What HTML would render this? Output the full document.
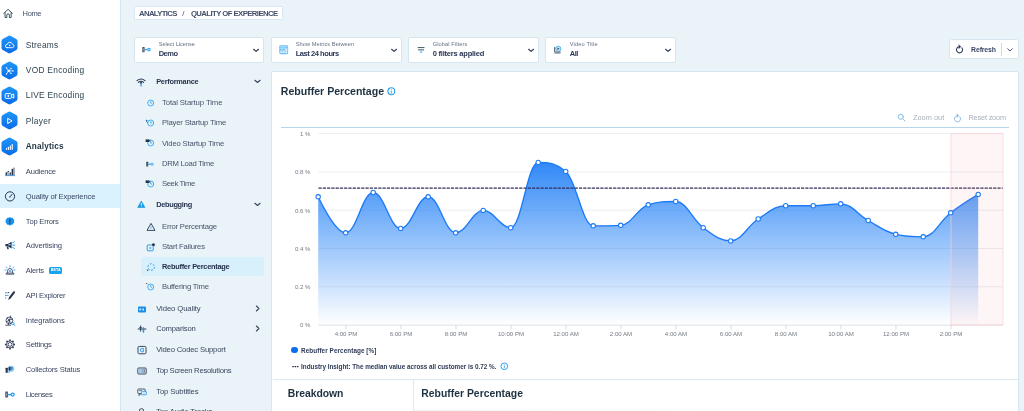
<!DOCTYPE html>
<html lang="en">
<head>
<meta charset="utf-8">
<title>Analytics - Quality of Experience</title>
<style>
*{box-sizing:border-box;margin:0;padding:0}
html,body{width:1024px;height:411px;overflow:hidden}
body{background:#eaf3f7;font-family:"Liberation Sans",sans-serif;color:#2f3d5c;position:relative}
.abs{position:absolute}
#app{position:absolute;left:0;top:0;width:1024px;height:411px;overflow:hidden;will-change:transform;background:#eaf3f7}
/* ---------- left sidebar ---------- */
#side{position:absolute;left:0;top:0;width:121px;height:411px;background:#fff;border-right:1px solid #d3e5f0}
#side .it{position:absolute;left:0;width:120.2px;height:24px;line-height:25.2px;font-size:7.6px;color:#3a4763;padding-left:25.8px;white-space:nowrap}
#side .it.main{line-height:24.6px;font-size:8.35px;letter-spacing:.3px;color:#2f4350;padding-left:25.8px}
#side .it.main.b{font-weight:bold;color:#1d3140;font-size:8.2px;line-height:26px}
#side .it.cur{background:#daf2fd}
#side .ic{position:absolute;left:2px;top:50%;width:16px;height:16px;margin-top:-8px;transform:translateY(.4px)}
#side .hex{position:absolute;left:.9px;top:50%;width:17px;height:19px;margin-top:-9.5px}
.beta{display:inline-block;vertical-align:middle;background:#1aa3ea;color:#fff;font-size:3.7px;font-weight:bold;line-height:6.8px;height:6.6px;width:12.6px;text-align:center;border-radius:1.6px;margin-left:5.6px;position:relative;top:-.7px;letter-spacing:.1px}
/* ---------- header ---------- */
#crumb{position:absolute;left:134px;top:6px;width:149px;height:14px;background:#fff;border:1px solid #d8e8f2;border-radius:1px;font-size:7.75px;font-weight:bold;color:#44506b;line-height:13.4px;padding-left:4px;white-space:nowrap;letter-spacing:.05px}
.sel{position:absolute;top:37px;height:26px;background:#fff;border:1px solid #d5e6f1;border-radius:2px}
.sel .lb{position:absolute;left:23.7px;top:2.6px;font-size:5.7px;color:#667286;white-space:nowrap;line-height:7px}
.sel .vl{position:absolute;left:23.7px;top:11.2px;font-size:7.5px;font-weight:bold;color:#2a3654;white-space:nowrap;line-height:10px}
.sel svg.chev{position:absolute;right:3.5px;top:9.9px;width:6.2px;height:4.4px}
.sel svg.li{position:absolute;left:7px;top:7px;width:11px;height:11px}
#refresh{position:absolute;left:949px;top:39px;width:70px;height:20px;background:#fff;border:1px solid #d5e6f1;border-radius:2.5px}
#refresh>span{position:absolute;left:21.1px;top:1.2px;line-height:18.5px;font-size:6.9px;font-weight:bold;color:#3a4663}
#refresh i{position:absolute;left:51px;top:3.4px;width:1.2px;height:12.2px;background:#c6dbeb}
#crumb b{position:absolute;top:0}#crumb .c1{left:4px}#crumb .c2{left:47.2px;font-weight:normal}#crumb .c3{left:55.9px}
</style>
</head>
<body>
<div id="app">
<div id="side">
<svg width="0" height="0" style="position:absolute"><defs>
<linearGradient id="hg" x1="0" y1="0" x2="0" y2="1"><stop offset="0" stop-color="#2196f8"/><stop offset="1" stop-color="#0a6be6"/></linearGradient>
<symbol id="hex" viewBox="0 0 17 19"><path d="M7.2 .9 Q8.5 .2 9.8 .9 L15.3 4.1 Q16.5 4.8 16.5 6.2 L16.5 12.8 Q16.5 14.2 15.3 14.9 L9.8 18.1 Q8.5 18.8 7.2 18.1 L1.7 14.9 Q.5 14.2 .5 12.8 L.5 6.2 Q.5 4.8 1.7 4.1 Z" fill="url(#hg)"/></symbol>
</defs></svg>

<div class="it" style="top:1.2px;padding-left:22.6px;font-size:7.5px;color:#434f6b">
<svg class="ic" style="left:3.4px;width:10.2px;height:10.2px;margin-top:-5.2px" viewBox="0 0 11 11" fill="none" stroke="#34505c" stroke-width="1.05" stroke-linejoin="round" stroke-linecap="round"><path d="M.8 5.4 L5.5 1 L10.2 5.4"/><path d="M2.2 4.6 V9.9 H4.1 V7.2 Q4.1 5.9 5.5 5.9 Q6.9 5.9 6.9 7.2 V9.9 H8.8 V4.6"/></svg><span style="letter-spacing:-0.372px">Home</span></div>

<div class="it main" style="top:32.8px"><svg class="hex"><use href="#hex"/></svg>
<svg class="ic" style="left:3.9px;width:11px;height:11px;margin-top:-5.5px" viewBox="0 0 11 11" fill="none" stroke="#fff" stroke-width=".9" stroke-linecap="round" stroke-linejoin="round"><path d="M3 8.3 H8.3 Q10 8.1 10 6.5 Q9.9 5 8.4 4.9 Q7.8 2.8 5.7 2.8 Q3.6 2.9 3.3 5 Q1.2 5.2 1.2 6.8 Q1.3 8.3 3 8.3 Z"/><circle cx="5.6" cy="6" r=".8" fill="#fff" stroke="none"/></svg><span style="letter-spacing:0.220px">Streams</span></div>

<div class="it main" style="top:58.1px"><svg class="hex"><use href="#hex"/></svg>
<svg class="ic" style="left:3.9px;width:11px;height:11px;margin-top:-5.5px" viewBox="0 0 11 11" fill="#fff" stroke="#fff" stroke-width=".7" stroke-linecap="round"><circle cx="4.6" cy="5.5" r="1.1" stroke="none"/><path d="M4.6 5.5 L2.6 2.6 M4.6 5.5 L2.6 8.4 M4.6 5.5 L6.8 3.2 M4.6 5.5 L6.8 7.8 M4.6 5.5 H8.8"/><circle cx="2.5" cy="2.5" r=".7" stroke="none"/><circle cx="2.5" cy="8.5" r=".7" stroke="none"/><circle cx="7" cy="3" r=".7" stroke="none"/><circle cx="7" cy="8" r=".7" stroke="none"/><circle cx="9" cy="5.5" r=".7" stroke="none"/></svg><span style="letter-spacing:0.291px">VOD Encoding</span></div>

<div class="it main" style="top:83.45px"><svg class="hex"><use href="#hex"/></svg>
<svg class="ic" style="left:3.9px;width:11px;height:11px;margin-top:-5.5px" viewBox="0 0 11 11" fill="none" stroke="#fff" stroke-width=".95" stroke-linejoin="round"><rect x="1.2" y="3.2" width="6.2" height="4.8" rx=".8"/><path d="M7.6 4.8 L9.8 3.6 V7.6 L7.6 6.4"/><circle cx="4.3" cy="5.6" r=".9" fill="#fff" stroke="none"/></svg><span style="letter-spacing:0.266px">LIVE Encoding</span></div>

<div class="it main" style="top:108.75px"><svg class="hex"><use href="#hex"/></svg>
<svg class="ic" style="left:3.9px;width:11px;height:11px;margin-top:-5.5px" viewBox="0 0 11 11" fill="none" stroke="#fff" stroke-width="1" stroke-linejoin="round"><path d="M3.7 2.9 L8.1 5.5 L3.7 8.1 Z"/></svg><span style="letter-spacing:0.289px">Player</span></div>

<div class="it main b" style="top:134.1px"><svg class="hex"><use href="#hex"/></svg>
<svg class="ic" style="left:3.9px;width:11px;height:11px;margin-top:-5.5px" viewBox="0 0 11 11" fill="#fff"><rect x="2" y="6.6" width="1.1" height="2" rx=".4"/><rect x="3.9" y="5.4" width="1.1" height="3.2" rx=".4"/><rect x="5.8" y="4" width="1.1" height="4.6" rx=".4"/><rect x="7.7" y="2.6" width="1.1" height="6" rx=".4"/></svg><span style="letter-spacing:0.162px">Analytics</span></div>

<div class="it" style="top:159.4px">
<svg class="ic" style="left:4px;width:12px;height:12px;margin-top:-6px" viewBox="0 0 12 12"><path d="M1 10.2 H11" stroke="#1b8fe8" stroke-width=".8"/><g fill="#27334f"><rect x="1.6" y="6.8" width="1.3" height="3"/><rect x="3.6" y="5.6" width="1.3" height="4.2"/><rect x="5.6" y="7" width="1.3" height="2.8"/><rect x="7.6" y="3.4" width="1.5" height="6.4"/></g><rect x="9.6" y="2.2" width=".8" height="7.6" fill="#27334f"/><rect x="4" y="6.6" width=".6" height="2.8" fill="#fff"/></svg><span style="letter-spacing:-0.210px">Audience</span></div>

<div class="it cur" style="top:184px">
<svg class="ic" style="left:4px;width:12px;height:12px;margin-top:-6px" viewBox="0 0 12 12" fill="none" stroke="#27334f" stroke-width="1"><circle cx="6" cy="6" r="4.6"/><path d="M6 6.4 L8 4" stroke-linecap="round"/><circle cx="5.8" cy="6.6" r=".8" fill="#1b8fe8" stroke="none"/></svg><span style="letter-spacing:-0.129px">Quality of Experience</span></div>

<div class="it" style="top:208.9px">
<svg class="ic" style="left:5.1px;width:9.8px;height:9.8px;margin-top:-5px" viewBox="0 0 11 11"><path d="M5.5 .6 L6.9 1.5 L8.5 1.5 L9.2 2.9 L10.4 3.9 L10.1 5.5 L10.4 7.1 L9.2 8.1 L8.5 9.5 L6.9 9.5 L5.5 10.4 L4.1 9.5 L2.5 9.5 L1.8 8.1 L.6 7.1 L.9 5.5 L.6 3.9 L1.8 2.9 L2.5 1.5 L4.1 1.5 Z" fill="#1792ee"/><rect x="4.9" y="2.8" width="1.2" height="3.5" rx=".5" fill="#26324e"/><circle cx="5.5" cy="7.7" r=".75" fill="#26324e"/></svg><span style="letter-spacing:-0.215px">Top Errors</span></div>

<div class="it" style="top:232.8px">
<svg class="ic" style="left:4px;width:12px;height:12px;margin-top:-6px" viewBox="0 0 12 12"><path d="M1.4 4.6 H3.8 L7.6 2.4 V9 L3.8 6.9 H1.4 Z" fill="#27334f"/><path d="M2.6 7 L3.3 9.8 H4.8 L4.2 7" fill="#27334f"/><path d="M8.6 3.4 L10.4 2.4 M8.8 5.7 H10.8 M8.6 8 L10.4 9" stroke="#1b8fe8" stroke-width=".9" stroke-linecap="round"/><rect x="4.4" y="4.6" width="2.2" height="1.4" fill="#9ad2f7"/></svg><span style="letter-spacing:-0.128px">Advertising</span></div>

<div class="it" style="top:258.1px">
<svg class="ic" style="left:4px;width:12px;height:12px;margin-top:-6px" viewBox="0 0 12 12" fill="none" stroke="#27334f" stroke-width=".8"><path d="M3.6 8.6 V6.4 Q3.7 4.2 6 4.1 Q8.3 4.2 8.4 6.4 V8.6"/><path d="M2.2 9.8 H9.8 V8.7 H2.2 Z"/><circle cx="6" cy="6.8" r=".9" fill="#8fd0f8" stroke="#1b8fe8" stroke-width=".6"/><path d="M6 1.2 V2.6 M2.2 2.6 L3.2 3.6 M9.8 2.6 L8.8 3.6 M1 5.6 H2.2 M9.8 5.6 H11" stroke="#1b8fe8" stroke-linecap="round"/></svg><span style="letter-spacing:-0.224px">Alerts</span><span class="beta">BETA</span></div>

<div class="it" style="top:282.8px">
<svg class="ic" style="left:4px;width:12px;height:12px;margin-top:-6px" viewBox="0 0 12 12"><path d="M1 3.4 H3.4 M1 6 H2.8 M1 8.6 H2.2" stroke="#1b8fe8" stroke-width=".9"/><path d="M3.8 3.2 H5.2 M3.4 6 H4.4" stroke="#27334f" stroke-width=".9"/><path d="M4.2 10.6 L5 7.8 L9.3 2.2 Q10 1.6 10.8 2.2 Q11.4 2.9 10.8 3.6 L6.6 9.2 Z" fill="#27334f"/></svg><span style="letter-spacing:-0.267px">API Explorer</span></div>

<div class="it" style="top:307.5px">
<svg class="ic" style="left:4px;width:12px;height:12px;margin-top:-6px" viewBox="0 0 12 12" fill="none" stroke="#27334f" stroke-width=".8"><circle cx="5.4" cy="6" r="3.4"/><path d="M2.3 7.6 Q5 5.4 8.6 4.6 M3.2 3.6 Q5.6 5.6 6.6 9.2 M6.8 1.2 L4.2 10.8" /><path d="M1.2 10.8 H7" stroke="#27334f"/><circle cx="8.8" cy="9" r="1.3" stroke="#1b8fe8"/><path d="M9.8 10 L11 11.2" stroke="#1b8fe8" stroke-linecap="round"/></svg><span style="letter-spacing:-0.062px">Integrations</span></div>

<div class="it" style="top:332.1px">
<svg class="ic" style="left:4px;width:12px;height:12px;margin-top:-6px" viewBox="0 0 12 12" fill="none" stroke="#27334f" stroke-width=".85" stroke-linejoin="round"><circle cx="6" cy="6" r="3.5"/><circle cx="6" cy="6" r="1.9"/><path d="M6 1 V2.5 M6 9.5 V11 M1 6 H2.5 M9.5 6 H11 M2.5 2.5 L3.5 3.5 M8.5 8.5 L9.5 9.5 M2.5 9.5 L3.5 8.5 M8.5 3.5 L9.5 2.5" stroke-width="1.5" stroke-linecap="butt"/></svg><span style="letter-spacing:-0.193px">Settings</span></div>

<div class="it" style="top:356.8px">
<svg class="ic" style="left:4px;width:12px;height:12px;margin-top:-6px" viewBox="0 0 12 12"><circle cx="7.2" cy="5.4" r="3.1" fill="#8fd0f8"/><rect x="1.6" y="4.4" width="2.2" height="5" rx=".4" fill="#27334f"/><rect x="4.6" y="3.4" width="2" height="3.8" fill="#27334f"/><rect x="7" y="3.4" width="1.6" height="3" fill="#1b8fe8"/><path d="M4 8.6 H6" stroke="#1b8fe8" stroke-width=".8"/></svg><span style="letter-spacing:-0.182px">Collectors Status</span></div>

<div class="it" style="top:381.5px">
<svg class="ic" style="left:4px;width:12px;height:12px;margin-top:-6px" viewBox="0 0 12 12" fill="none"><rect x="1.3" y="3" width="2.6" height="6.2" rx=".5" fill="#3f4a5a"/><rect x="2" y="4.2" width="1.2" height="3.8" fill="#8a94a0"/><path d="M3.9 6.2 H7" stroke="#2ea6f6" stroke-width="1.1"/><path d="M4.9 5.2 V7.2 M6 5.4 V7" stroke="#2ea6f6" stroke-width=".6"/><circle cx="8.7" cy="6.2" r="1.5" stroke="#1f9af2" stroke-width="1.2"/></svg><span style="letter-spacing:-0.441px">Licenses</span></div>
</div>

<div id="crumb"><b class="c1"><span style="letter-spacing:-0.655px">ANALYTICS</span></b><b class="c2">/</b><b class="c3"><span style="letter-spacing:-0.580px">QUALITY OF EXPERIENCE</span></b></div>

<div class="sel" style="left:134px;width:130px">
<svg class="li" style="left:6.3px;top:6.2px" viewBox="0 0 11 11" fill="none"><rect x="1.3" y="2.9" width="2.3" height="5.3" rx=".5" fill="#4a5563"/><rect x="1.9" y="3.9" width="1.1" height="3.3" fill="#7c8794"/><path d="M3.6 5.6 H6.8" stroke="#2ea6f6" stroke-width="1"/><path d="M4.5 4.7 V6.5 M5.6 4.9 V6.3" stroke="#2ea6f6" stroke-width=".6"/><circle cx="8" cy="5.6" r="1.25" stroke="#2ea6f6" stroke-width="1.05"/></svg>
<div class="lb"><span style="letter-spacing:-0.062px">Select License</span></div><div class="vl"><span style="letter-spacing:-0.481px">Demo</span></div>
<svg class="chev" viewBox="0 0 7 5" fill="none" stroke="#2f3b57" stroke-width="1.35" stroke-linecap="round" stroke-linejoin="round"><path d="M.7 1.5 L3.5 3.9 L6.3 1.5"/></svg></div>

<div class="sel" style="left:271px;width:131px">
<svg class="li" style="left:5.8px;top:5.9px;width:11.4px;height:11.4px" viewBox="0 0 11 11" fill="none"><rect x="1.2" y="1.3" width="8.6" height="8.5" rx="1.3" fill="#63bdf8"/><rect x="2" y="2" width="7" height="1.5" rx=".4" fill="#a5dafb"/><path d="M1.6 4.2 H9.4 M1.6 6.6 H9.4" stroke="#eaf6fe" stroke-width=".55"/><path d="M4 4.4 V9.2 M7 4.4 V9.2" stroke="#d6eefd" stroke-width=".6"/><rect x="2.2" y="7.2" width="1.4" height="1.5" fill="#f4fbff"/><rect x="4.6" y="7.2" width="1.8" height="1.5" fill="#fdf3f3"/><rect x="7.4" y="4.9" width="1.5" height="1.4" fill="#fdf3f3"/><rect x="7.4" y="7.2" width="1.5" height="1.5" fill="#f4fbff"/></svg>
<div class="lb"><span style="letter-spacing:0.034px">Show Metrics Between</span></div><div class="vl"><span style="letter-spacing:-0.439px">Last 24 hours</span></div>
<svg class="chev" viewBox="0 0 7 5" fill="none" stroke="#2f3b57" stroke-width="1.35" stroke-linecap="round" stroke-linejoin="round"><path d="M.7 1.5 L3.5 3.9 L6.3 1.5"/></svg></div>

<div class="sel" style="left:408px;width:131px">
<svg class="li" style="left:6.6px;top:6.5px" viewBox="0 0 11 11" fill="none" stroke-linecap="round"><path d="M2.1 2.6 H8.1 M2.5 4.9 H7.7" stroke="#3f5560" stroke-width="1"/><path d="M4.3 7.1 H5.9" stroke="#2ea6f6" stroke-width="1"/></svg>
<div class="lb"><span style="letter-spacing:0.083px">Global Filters</span></div><div class="vl"><span style="letter-spacing:-0.214px">0 filters applied</span></div>
<svg class="chev" viewBox="0 0 7 5" fill="none" stroke="#2f3b57" stroke-width="1.35" stroke-linecap="round" stroke-linejoin="round"><path d="M.7 1.5 L3.5 3.9 L6.3 1.5"/></svg></div>

<div class="sel" style="left:545px;width:131px">
<svg class="li" style="left:7.4px;top:7.2px;width:9.4px;height:9.4px" viewBox="0 0 11 11" fill="none"><circle cx="6.2" cy="4.4" r="3" fill="#d4eefc" stroke="#35aaf0" stroke-width="1"/><path d="M5.2 2.9 L7.8 4.4 L5.2 5.9 Z" fill="#2f3b57"/><path d="M2 2.4 V8.3 H9" stroke="#3f4b5f" stroke-width="1.1"/><path d="M1.6 9.6 H8.6" stroke="#56606f" stroke-width=".8"/></svg>
<div class="lb"><span style="letter-spacing:0.153px">Video Title</span></div><div class="vl"><span style="letter-spacing:-0.447px">All</span></div>
<svg class="chev" viewBox="0 0 7 5" fill="none" stroke="#2f3b57" stroke-width="1.35" stroke-linecap="round" stroke-linejoin="round"><path d="M.7 1.5 L3.5 3.9 L6.3 1.5"/></svg></div>

<div id="refresh">
<svg style="position:absolute;left:5px;top:4.2px;width:9px;height:10px" viewBox="0 0 9 10" fill="none" stroke="#2f3b57" stroke-width="1.05" stroke-linecap="round" stroke-linejoin="round"><path d="M6.9 3.9 A3.05 3.05 0 1 1 4.5 2.75"/><path d="M4 1 L5.9 2.7 L4 4.4 Z" fill="#2f3b57" stroke-width=".4"/></svg>
<span><span style="letter-spacing:-0.129px">Refresh</span></span><i></i>
<svg style="position:absolute;left:57px;top:7.6px;width:6px;height:4px" viewBox="0 0 6 4" fill="none" stroke="#4a5672" stroke-width="1" stroke-linecap="round" stroke-linejoin="round"><path d="M.7 .8 L3 3 L5.3 .8"/></svg>
</div>

<style>
#nav .n{position:absolute;left:156.2px;height:14px;line-height:14px;font-size:7.7px;color:#3a4661;white-space:nowrap}
#nav .n.s{left:162px;color:#48536d}
#nav .n.b{font-weight:bold;color:#28344f;font-size:7.4px}
#nav .hl{position:absolute;left:140.8px;top:257px;width:123.4px;height:18.4px;background:#d8f0fc;border-radius:2px}
#nav svg.i{position:absolute;width:10px;height:10px}
#nav svg.c{position:absolute;left:254.5px;width:7px;height:7px}
</style>
<div id="nav" style="position:absolute;left:0;top:.4px">
<svg width="0" height="0" style="position:absolute"><defs>
<symbol id="cd" viewBox="0 0 7 7"><path d="M.9 2.3 L3.5 4.5 L6.1 2.3" fill="none" stroke="#3d4862" stroke-width="1.2" stroke-linecap="round" stroke-linejoin="round"/></symbol>
<symbol id="cr" viewBox="0 0 7 7"><path d="M2.4 1 L4.9 3.5 L2.4 6" fill="none" stroke="#3d4862" stroke-width="1.15" stroke-linecap="round" stroke-linejoin="round"/></symbol>
<symbol id="clk" viewBox="0 0 10 10"><circle cx="5.7" cy="5" r="3" fill="none" stroke="#27a3ea" stroke-width=".85"/><path d="M5.7 3.4 V5.1 H6.9" fill="none" stroke="#27a3ea" stroke-width=".75" stroke-linecap="round"/></symbol>
</defs></svg>

<!-- Performance -->
<svg class="i" style="left:136px;top:76.6px" viewBox="0 0 10 10" fill="none" stroke-linecap="round"><path d="M1 3.6 Q5 .4 9 3.6" stroke="#27334f" stroke-width="1.1"/><path d="M2.4 5.4 Q5 3.2 7.6 5.4" stroke="#27334f" stroke-width="1.1"/><path d="M5 5.6 V9" stroke="#1b8fe8" stroke-width="1.1"/><circle cx="5" cy="5.8" r=".9" fill="#27334f"/></svg>
<div class="n b" style="top:74.6px"><span style="letter-spacing:-0.279px">Performance</span></div><svg class="c" style="left:254px;top:77.2px"><use href="#cd"/></svg>

<svg class="i" style="left:145px;top:97.5px"><use href="#clk"/></svg>
<div class="n s" style="top:95.7px"><span style="letter-spacing:-0.091px">Total Startup Time</span></div>

<svg class="i" style="left:145px;top:117.8px"><use href="#clk"/></svg><svg class="i" style="left:145px;top:117.8px" viewBox="0 0 10 10"><path d="M1 1.6 L3 2.6 L1 3.8 Z" fill="#1b8fe8"/><path d="M1.2 2.2 Q1.6 4.4 3 5" stroke="#27334f" stroke-width=".5" fill="none"/></svg>
<div class="n s" style="top:115.9px"><span style="letter-spacing:-0.184px">Player Startup Time</span></div>

<svg class="i" style="left:145px;top:138.1px"><use href="#clk"/></svg><svg class="i" style="left:145px;top:138.1px" viewBox="0 0 10 10"><rect x=".6" y="1.4" width="3.6" height="2.6" fill="#27334f"/><path d="M4.2 2.2 L5.2 1.6 V3.8 L4.2 3.2 Z" fill="#27334f"/></svg>
<div class="n s" style="top:136.2px"><span style="letter-spacing:-0.174px">Video Startup Time</span></div>

<svg class="i" style="left:145px;top:158.3px" viewBox="0 0 10 10" fill="none"><rect x="1.2" y="2.8" width="2" height="4.8" rx=".4" fill="#4a5563"/><path d="M3.2 5.2 H6" stroke="#2ea6f6" stroke-width=".9"/><path d="M4 4.5 V5.9 M5 4.7 V5.7" stroke="#2ea6f6" stroke-width=".55"/><circle cx="7.1" cy="5.2" r="1.1" stroke="#2ea6f6" stroke-width=".9"/></svg>
<div class="n s" style="top:156.4px"><span style="letter-spacing:-0.279px">DRM Load Time</span></div>

<svg class="i" style="left:145px;top:178.6px"><use href="#clk"/></svg><svg class="i" style="left:145px;top:178.6px" viewBox="0 0 10 10"><rect x=".6" y="1.4" width="3.6" height="2.6" fill="#27334f"/><path d="M4.2 2.2 L5.2 1.6 V3.8 L4.2 3.2 Z" fill="#27334f"/></svg>
<div class="n s" style="top:176.7px"><span style="letter-spacing:-0.391px">Seek Time</span></div>

<!-- Debugging -->
<svg class="i" style="left:137.3px;top:200.1px;width:8.6px;height:8.6px" viewBox="0 0 10 10"><path d="M5 1.2 L9.2 8.6 H.8 Z" fill="#1a9be2" stroke="#1a9be2" stroke-width=".8" stroke-linejoin="round"/><path d="M5 3.8 V6" stroke="#fff" stroke-width="1" stroke-linecap="round"/><circle cx="5" cy="7.4" r=".55" fill="#fff"/></svg>
<div class="n b" style="top:197.6px"><span style="letter-spacing:-0.312px">Debugging</span></div><svg class="c" style="left:254px;top:200.3px"><use href="#cd"/></svg>

<svg class="i" style="left:145.5px;top:221.4px" viewBox="0 0 10 10"><path d="M5 1.4 L9 8.4 H1 Z" fill="none" stroke="#27334f" stroke-width=".9" stroke-linejoin="round"/><path d="M3.4 6.4 L5 3.8 L6.6 6.4 Z" fill="#8fd0f8"/></svg>
<div class="n s" style="top:219.4px"><span style="letter-spacing:-0.236px">Error Percentage</span></div>

<svg class="i" style="left:145.5px;top:241.6px" viewBox="0 0 10 10" fill="none"><rect x="1.2" y="3" width="6" height="5.8" rx=".8" stroke="#1b8fe8" stroke-width=".9"/><path d="M3.6 4.8 L5.6 6 L3.6 7.2 Z" fill="#1b8fe8"/><circle cx="7.4" cy="2.8" r="1.8" fill="#27334f" stroke="#eaf3f7" stroke-width=".5"/></svg>
<div class="n s" style="top:239.6px"><span style="letter-spacing:-0.209px">Start Failures</span></div>

<div class="hl"></div>
<svg class="i" style="left:145.5px;top:261.6px" viewBox="0 0 10 10" fill="none"><circle cx="5.2" cy="5" r="3.2" stroke="#1b8fe8" stroke-width="1" stroke-dasharray="1.6 1.75"/><path d="M1 7.4 L2.2 9 M1 9 L2.2 7.6" stroke="#27334f" stroke-width=".6"/></svg>
<div class="n s b" style="top:259.6px;color:#1f2b45"><span style="letter-spacing:-0.255px">Rebuffer Percentage</span></div>

<svg class="i" style="left:145px;top:281.5px"><use href="#clk"/></svg><svg class="i" style="left:145px;top:281.5px" viewBox="0 0 10 10"><path d="M.8 1.6 Q2.2 .8 3 2.4" stroke="#27334f" stroke-width=".6" fill="none"/></svg>
<div class="n s" style="top:279.5px"><span style="letter-spacing:-0.180px">Buffering Time</span></div>

<!-- rest -->
<svg class="i" style="left:136.8px;top:303.4px" viewBox="0 0 10 10"><rect x="1" y="2.4" width="8" height="6" rx=".8" fill="#1b8fe8"/><path d="M2.6 4.4 V6.4 M3.8 4.4 V6.4 M2.6 5.4 H3.8" stroke="#fff" stroke-width=".6"/><path d="M5.6 4.4 H6.6 Q7.4 5.4 6.6 6.4 H5.6 Z" fill="#fff"/></svg>
<div class="n" style="top:301.4px"><span style="letter-spacing:-0.091px">Video Quality</span></div><svg class="c" style="left:253.6px;top:304.4px"><use href="#cr"/></svg>

<svg class="i" style="left:136.8px;top:324.1px" viewBox="0 0 10 10" fill="none"><path d="M.8 5 H9.2" stroke="#27334f" stroke-width="1"/><path d="M3.6 1.6 V7.6 M2.4 3.4 H4.8" stroke="#27334f" stroke-width=".9"/><path d="M6.4 3 V8.8 M5.2 7 H7.6" stroke="#1b8fe8" stroke-width=".9"/></svg>
<div class="n" style="top:322.1px"><span style="letter-spacing:-0.206px">Comparison</span></div><svg class="c" style="left:253.6px;top:325.1px"><use href="#cr"/></svg>

<svg class="i" style="left:136.8px;top:344.8px" viewBox="0 0 10 10" fill="none"><rect x="1" y="1.4" width="8" height="7.4" rx="1.2" stroke="#27334f" stroke-width=".9"/><path d="M6.4 3.4 H4.6 Q3.4 3.4 3.4 5.1 Q3.4 6.8 4.6 6.8 H6.4 Z" fill="#cfeafb" stroke="#1b8fe8" stroke-width=".8"/></svg>
<div class="n" style="top:342.8px"><span style="letter-spacing:-0.186px">Video Codec Support</span></div>

<svg class="i" style="left:136.8px;top:365.5px" viewBox="0 0 10 10" fill="none"><rect x=".8" y="2" width="8.4" height="6" rx=".8" stroke="#27334f" stroke-width=".9"/><rect x="1.8" y="3" width="3.6" height="4" fill="#8fd0f8"/><path d="M6 3 V7 M7.4 3 V7" stroke="#27334f" stroke-width=".6"/></svg>
<div class="n" style="top:363.5px"><span style="letter-spacing:-0.281px">Top Screen Resolutions</span></div>

<svg class="i" style="left:136.8px;top:386.2px" viewBox="0 0 10 10" fill="none"><rect x=".8" y="2" width="7.4" height="4.6" rx=".8" stroke="#27334f" stroke-width=".8"/><path d="M2.2 6.8 L1.8 8.6 L3.8 6.8" stroke="#27334f" stroke-width=".7"/><rect x="4.4" y="4.4" width="5" height="3.4" rx=".6" fill="#cfeafb" stroke="#1b8fe8" stroke-width=".7"/><path d="M2 3.6 H5" stroke="#27334f" stroke-width=".6"/></svg>
<div class="n" style="top:384.2px"><span style="letter-spacing:-0.143px">Top Subtitles</span></div>

<svg class="i" style="left:136.8px;top:406.9px" viewBox="0 0 10 10" fill="none"><path d="M2.6 8 V2.4 Q4.6 .8 6.4 2.4" stroke="#27334f" stroke-width=".9"/><path d="M6.4 2.4 V6" stroke="#27334f" stroke-width=".9"/></svg>
<div class="n" style="top:404.9px"><span style="letter-spacing:-0.163px">Top Audio Tracks</span></div>
</div>

<style>
#card{position:absolute;left:271px;top:71px;width:748px;height:345px;background:#fff;border:1px solid #d5e6f1;border-radius:2px}
#ttl{position:absolute;left:280.8px;top:84px;font-size:10.6px;font-weight:bold;color:#1d3140;line-height:14px;white-space:nowrap}
#tline{position:absolute;left:280.5px;top:127px;width:728.5px;height:1px;background:#b7d6ec}
.tb{position:absolute;top:112.4px;line-height:12px;font-size:7.3px;color:#a7b0bb;white-space:nowrap}
.ax{font-family:"Liberation Sans",sans-serif;font-size:6.1px;fill:#757c86}
.lg{position:absolute;left:301.1px;font-size:6.35px;font-weight:bold;color:#2e3a57;line-height:9px;white-space:nowrap}
#hdiv{position:absolute;left:272.5px;top:378.7px;width:745px;height:1px;background:#dde9f1}
#vdiv{position:absolute;left:413.2px;top:378.7px;width:1px;height:40px;background:#dde9f1}
.h2{position:absolute;top:387.3px;font-size:10.4px;font-weight:bold;color:#1d3140;line-height:14px;white-space:nowrap}
</style>
<div id="card"></div>
<div id="ttl"><span style="letter-spacing:-0.018px">Rebuffer Percentage</span></div>
<svg class="abs" style="left:387.3px;top:87.1px;width:8.6px;height:8.6px" viewBox="0 0 8 8" fill="none"><circle cx="4" cy="4" r="3.2" stroke="#2a9cf0" stroke-width=".95"/><path d="M4 3.6 V5.8" stroke="#2a9cf0" stroke-width=".8" stroke-linecap="round"/><circle cx="4" cy="2.4" r=".45" fill="#2a9cf0"/></svg>
<svg class="abs" style="left:897px;top:113px;width:9px;height:9px" viewBox="0 0 9 9" fill="none" stroke="#85bde9" stroke-width="1" stroke-linecap="round"><circle cx="3.8" cy="3.8" r="2.5"/><path d="M5.8 5.8 L8 8"/></svg>
<div class="tb" style="left:913px"><span style="letter-spacing:0.053px">Zoom out</span></div>
<svg class="abs" style="left:952.8px;top:112.6px;width:9px;height:10px" viewBox="0 0 9 10" fill="none" stroke="#85bde9" stroke-width="1" stroke-linecap="round" stroke-linejoin="round"><path d="M6.9 3.9 A3.05 3.05 0 1 1 4.5 2.75"/><path d="M4 1 L5.9 2.7 L4 4.4 Z" fill="#85bde9" stroke-width=".4"/></svg>
<div class="tb" style="left:968.5px"><span style="letter-spacing:-0.160px">Reset zoom</span></div>
<div id="tline"></div>
<svg id="chart" style="position:absolute;left:0;top:0" width="1024" height="411" viewBox="0 0 1024 411">
<defs><linearGradient id="ag" gradientUnits="userSpaceOnUse" x1="0" y1="162" x2="0" y2="325"><stop offset="0" stop-color="#2180f7" stop-opacity=".93"/><stop offset="1" stop-color="#2180f7" stop-opacity="0"/></linearGradient></defs>
<path d="M318.5 133.6 H1003" stroke="#dde2e7" stroke-width=".6"/>
<path d="M318.5 171.9 H1003" stroke="#dde2e7" stroke-width=".6"/>
<path d="M318.5 210.2 H1003" stroke="#dde2e7" stroke-width=".6"/>
<path d="M318.5 248.5 H1003" stroke="#dde2e7" stroke-width=".6"/>
<path d="M318.5 286.8 H1003" stroke="#dde2e7" stroke-width=".6"/>
<path d="M318.5 325.1 H1003" stroke="#c4cfda" stroke-width=".6"/>
<path d="M346.0 325.1 V329.4" stroke="#c4cfda" stroke-width=".7"/>
<path d="M401.0 325.1 V329.4" stroke="#c4cfda" stroke-width=".7"/>
<path d="M456.0 325.1 V329.4" stroke="#c4cfda" stroke-width=".7"/>
<path d="M511.0 325.1 V329.4" stroke="#c4cfda" stroke-width=".7"/>
<path d="M566.0 325.1 V329.4" stroke="#c4cfda" stroke-width=".7"/>
<path d="M621.0 325.1 V329.4" stroke="#c4cfda" stroke-width=".7"/>
<path d="M676.0 325.1 V329.4" stroke="#c4cfda" stroke-width=".7"/>
<path d="M731.0 325.1 V329.4" stroke="#c4cfda" stroke-width=".7"/>
<path d="M786.0 325.1 V329.4" stroke="#c4cfda" stroke-width=".7"/>
<path d="M841.0 325.1 V329.4" stroke="#c4cfda" stroke-width=".7"/>
<path d="M896.0 325.1 V329.4" stroke="#c4cfda" stroke-width=".7"/>
<path d="M951.0 325.1 V329.4" stroke="#c4cfda" stroke-width=".7"/>
<path d="M318.2 196.8 C318.2 196.8 334.7 232.8 345.7 232.8 C356.7 232.8 362.2 192.5 373.2 192.5 C384.2 192.5 389.7 228.4 400.7 228.4 C411.7 228.4 417.2 196.8 428.2 196.8 C439.2 196.8 444.7 232.8 455.7 232.8 C466.7 232.8 472.2 210.4 483.2 210.4 C494.2 210.4 499.7 227.7 510.7 227.7 C521.7 227.7 527.2 162.5 538.2 162.5 C549.2 162.5 554.7 162.5 565.7 171.4 C576.7 180.3 582.2 225.8 593.2 225.8 C604.2 225.8 609.7 225.8 620.7 225.3 C631.7 224.9 637.2 208.2 648.2 204.8 C659.2 201.5 664.7 201.5 675.7 201.5 C686.7 201.5 692.2 219.8 703.2 227.7 C714.2 235.5 719.7 240.9 730.7 240.9 C741.7 240.9 747.2 226.1 758.2 219.0 C769.2 212.0 774.7 205.7 785.7 205.7 C796.7 205.7 802.2 205.7 813.2 205.7 C824.2 205.7 829.7 203.8 840.7 203.8 C851.7 203.8 857.2 214.4 868.2 220.5 C879.2 226.7 884.7 231.8 895.7 234.3 C906.7 236.8 912.2 236.8 923.2 236.8 C934.2 236.8 939.7 221.2 950.7 212.8 C961.7 204.3 978.2 194.4 978.2 194.4 L978.2 325.1 L318.2 325.1 Z" fill="url(#ag)"/>
<path d="M318.2 196.8 C318.2 196.8 334.7 232.8 345.7 232.8 C356.7 232.8 362.2 192.5 373.2 192.5 C384.2 192.5 389.7 228.4 400.7 228.4 C411.7 228.4 417.2 196.8 428.2 196.8 C439.2 196.8 444.7 232.8 455.7 232.8 C466.7 232.8 472.2 210.4 483.2 210.4 C494.2 210.4 499.7 227.7 510.7 227.7 C521.7 227.7 527.2 162.5 538.2 162.5 C549.2 162.5 554.7 162.5 565.7 171.4 C576.7 180.3 582.2 225.8 593.2 225.8 C604.2 225.8 609.7 225.8 620.7 225.3 C631.7 224.9 637.2 208.2 648.2 204.8 C659.2 201.5 664.7 201.5 675.7 201.5 C686.7 201.5 692.2 219.8 703.2 227.7 C714.2 235.5 719.7 240.9 730.7 240.9 C741.7 240.9 747.2 226.1 758.2 219.0 C769.2 212.0 774.7 205.7 785.7 205.7 C796.7 205.7 802.2 205.7 813.2 205.7 C824.2 205.7 829.7 203.8 840.7 203.8 C851.7 203.8 857.2 214.4 868.2 220.5 C879.2 226.7 884.7 231.8 895.7 234.3 C906.7 236.8 912.2 236.8 923.2 236.8 C934.2 236.8 939.7 221.2 950.7 212.8 C961.7 204.3 978.2 194.4 978.2 194.4" fill="none" stroke="#1c7af6" stroke-width="1.35" stroke-linejoin="round"/>
<path d="M318.5 188.1 H1003" stroke="#322d5a" stroke-width="1.25" stroke-dasharray="3.2 1.07"/>
<rect x="951" y="133.6" width="52" height="191.5" fill="#f58a94" fill-opacity=".085" stroke="#f8cfd3" stroke-width=".7"/>
<circle cx="318.2" cy="196.8" r="2.2" fill="#fff" stroke="#1c7af6" stroke-width="1.05"/>
<circle cx="345.7" cy="232.8" r="2.2" fill="#fff" stroke="#1c7af6" stroke-width="1.05"/>
<circle cx="373.2" cy="192.5" r="2.2" fill="#fff" stroke="#1c7af6" stroke-width="1.05"/>
<circle cx="400.7" cy="228.4" r="2.2" fill="#fff" stroke="#1c7af6" stroke-width="1.05"/>
<circle cx="428.2" cy="196.8" r="2.2" fill="#fff" stroke="#1c7af6" stroke-width="1.05"/>
<circle cx="455.7" cy="232.8" r="2.2" fill="#fff" stroke="#1c7af6" stroke-width="1.05"/>
<circle cx="483.2" cy="210.4" r="2.2" fill="#fff" stroke="#1c7af6" stroke-width="1.05"/>
<circle cx="510.7" cy="227.7" r="2.2" fill="#fff" stroke="#1c7af6" stroke-width="1.05"/>
<circle cx="538.2" cy="162.5" r="2.2" fill="#fff" stroke="#1c7af6" stroke-width="1.05"/>
<circle cx="565.7" cy="171.4" r="2.2" fill="#fff" stroke="#1c7af6" stroke-width="1.05"/>
<circle cx="593.2" cy="225.8" r="2.2" fill="#fff" stroke="#1c7af6" stroke-width="1.05"/>
<circle cx="620.7" cy="225.3" r="2.2" fill="#fff" stroke="#1c7af6" stroke-width="1.05"/>
<circle cx="648.2" cy="204.8" r="2.2" fill="#fff" stroke="#1c7af6" stroke-width="1.05"/>
<circle cx="675.7" cy="201.5" r="2.2" fill="#fff" stroke="#1c7af6" stroke-width="1.05"/>
<circle cx="703.2" cy="227.7" r="2.2" fill="#fff" stroke="#1c7af6" stroke-width="1.05"/>
<circle cx="730.7" cy="240.9" r="2.2" fill="#fff" stroke="#1c7af6" stroke-width="1.05"/>
<circle cx="758.2" cy="219.0" r="2.2" fill="#fff" stroke="#1c7af6" stroke-width="1.05"/>
<circle cx="785.7" cy="205.7" r="2.2" fill="#fff" stroke="#1c7af6" stroke-width="1.05"/>
<circle cx="813.2" cy="205.7" r="2.2" fill="#fff" stroke="#1c7af6" stroke-width="1.05"/>
<circle cx="840.7" cy="203.8" r="2.2" fill="#fff" stroke="#1c7af6" stroke-width="1.05"/>
<circle cx="868.2" cy="220.5" r="2.2" fill="#fff" stroke="#1c7af6" stroke-width="1.05"/>
<circle cx="895.7" cy="234.3" r="2.2" fill="#fff" stroke="#1c7af6" stroke-width="1.05"/>
<circle cx="923.2" cy="236.8" r="2.2" fill="#fff" stroke="#1c7af6" stroke-width="1.05"/>
<circle cx="950.7" cy="212.8" r="2.2" fill="#fff" stroke="#1c7af6" stroke-width="1.05"/>
<circle cx="978.2" cy="194.4" r="2.2" fill="#fff" stroke="#1c7af6" stroke-width="1.05"/>
<text x="310.5" y="135.9" text-anchor="end" class="ax">1 %</text>
<text x="310.5" y="174.2" text-anchor="end" class="ax">0.8 %</text>
<text x="310.5" y="212.5" text-anchor="end" class="ax">0.6 %</text>
<text x="310.5" y="250.8" text-anchor="end" class="ax">0.4 %</text>
<text x="310.5" y="289.1" text-anchor="end" class="ax">0.2 %</text>
<text x="310.5" y="327.4" text-anchor="end" class="ax">0 %</text>
<text x="346.0" y="336.2" text-anchor="middle" class="ax">4:00 PM</text>
<text x="401.0" y="336.2" text-anchor="middle" class="ax">6:00 PM</text>
<text x="456.0" y="336.2" text-anchor="middle" class="ax">8:00 PM</text>
<text x="511.0" y="336.2" text-anchor="middle" class="ax">10:00 PM</text>
<text x="566.0" y="336.2" text-anchor="middle" class="ax">12:00 AM</text>
<text x="621.0" y="336.2" text-anchor="middle" class="ax">2:00 AM</text>
<text x="676.0" y="336.2" text-anchor="middle" class="ax">4:00 AM</text>
<text x="731.0" y="336.2" text-anchor="middle" class="ax">6:00 AM</text>
<text x="786.0" y="336.2" text-anchor="middle" class="ax">8:00 AM</text>
<text x="841.0" y="336.2" text-anchor="middle" class="ax">10:00 AM</text>
<text x="896.0" y="336.2" text-anchor="middle" class="ax">12:00 PM</text>
<text x="951.0" y="336.2" text-anchor="middle" class="ax">2:00 PM</text>
</svg>
<div class="abs" style="left:291.1px;top:346.9px;width:6.6px;height:6.6px;border-radius:50%;background:#0b6ef0"></div>
<div class="lg" style="top:345.8px"><span style="letter-spacing:0.073px">Rebuffer Percentage [%]</span></div>
<svg class="abs" style="left:291.6px;top:364px;width:7px;height:5px" viewBox="0 0 7 5"><path d="M.3 2.6 H6.4" stroke="#2d2848" stroke-width="1.1" stroke-dasharray="1.5 .8"/></svg>
<div class="lg" style="top:362px"><span style="letter-spacing:-0.018px">Industry Insight: The median value across all customer is 0.72 %.</span></div>
<svg class="abs" style="left:500.2px;top:362.3px;width:8.6px;height:8.6px" viewBox="0 0 8 8" fill="none"><circle cx="4" cy="4" r="3.1" stroke="#2a9cf0" stroke-width=".9"/><path d="M4 3.6 V5.6" stroke="#2a9cf0" stroke-width=".75" stroke-linecap="round"/><circle cx="4" cy="2.5" r=".42" fill="#2a9cf0"/></svg>
<div id="btm" class="abs" style="left:414px;top:410px;width:350px;height:1px;background:linear-gradient(90deg,#f3f5f7,#f8f9fa 70%,#fff)"></div>
<div id="hdiv"></div><div id="vdiv"></div>
<div class="h2" style="left:287.7px"><span style="letter-spacing:-0.039px">Breakdown</span></div>
<div class="h2" style="left:421.3px"><span style="letter-spacing:0.003px">Rebuffer Percentage</span></div>

</div>
</body>
</html>
